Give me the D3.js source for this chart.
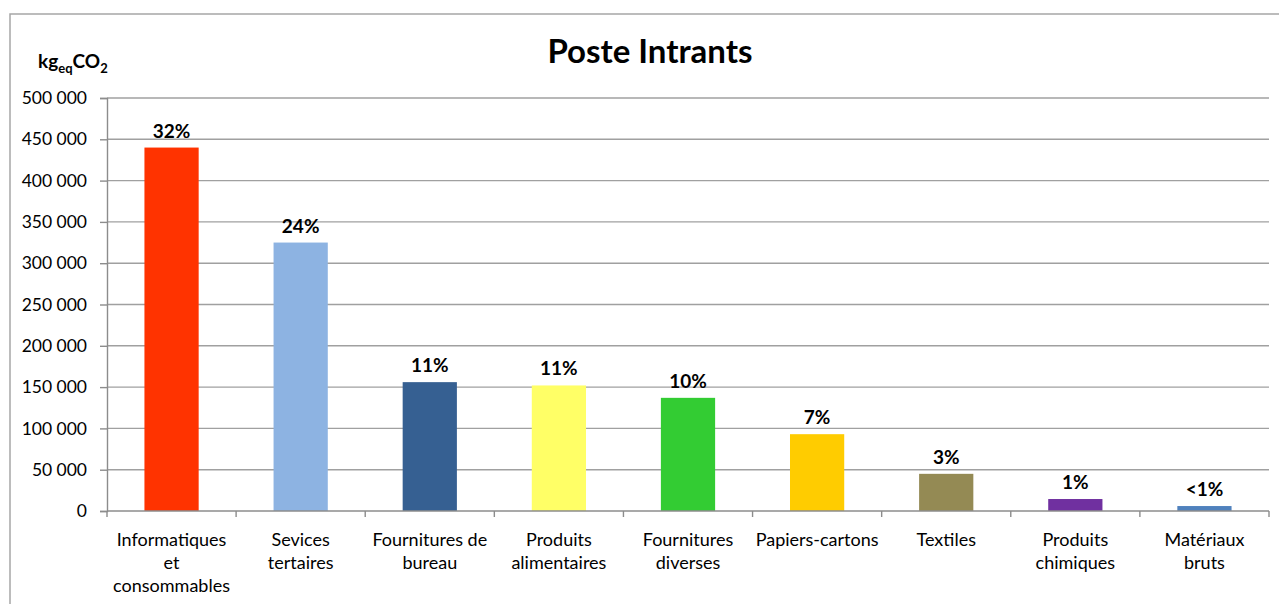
<!DOCTYPE html>
<html>
<head>
<meta charset="utf-8">
<script src="https://cdn.jsdelivr.net/npm/d3@7"></script>
<style>
  body { margin: 0; background: #fff; }
  svg { display: block; font-family: Lato, "Open Sans", sans-serif; }
</style>
</head>
<body>
<div id="chart"></div>
<script>
var categories = [
  ["Informatiques", "et", "consommables"],
  ["Sevices", "tertaires"],
  ["Fournitures de", "bureau"],
  ["Produits", "alimentaires"],
  ["Fournitures", "diverses"],
  ["Papiers-cartons"],
  ["Textiles"],
  ["Produits", "chimiques"],
  ["Matériaux", "bruts"]
]
var values = [440000, 325000, 156000, 152000, 137000, 93000, 45000, 14500, 6000]
var percents = ["32%", "24%", "11%", "11%", "10%", "7%", "3%", "1%", "<1%"]
var colors = ["#FF3300", "#8DB3E2", "#366092", "#FFFF66", "#33CC33", "#FFCC00", "#948A54", "#7030A0", "#4F81BD"]
var yTicks = [0, 50000, 100000, 150000, 200000, 250000, 300000, 350000, 400000, 450000, 500000]

var W = 1279, H = 604
var margin = {top: 98, right: 10, bottom: 93, left: 107}
var width = W - margin.left - margin.right,
    height = H - margin.top - margin.bottom

var svg = d3.select("#chart").append("svg")
    .attr("width", W)
    .attr("height", H)

// chart frame
svg.append("rect")
  .attr("x", 10).attr("y", 14)
  .attr("width", W).attr("height", H)
  .attr("fill", "none")
  .attr("stroke", "#A6A6A6")
  .attr("stroke-width", 1.5)

var chart = svg.append("g")
    .attr("transform", "translate(" + margin.left + "," + margin.top + ")")

var yScale = d3.scaleLinear().domain([0, 500000]).range([height, 0])
var xScale = d3.scaleBand()
    .domain(d3.range(categories.length))
    .range([0, width])
    .paddingInner(0.58)
    .paddingOuter(0.29)

var fmt = function(d) { return d3.format(",")(d).replace(/,/g, "\u202F") }

// grid lines
chart.selectAll(".grid")
  .data(yTicks.slice(1))
  .enter().append("line")
  .attr("x1", 0).attr("x2", width)
  .attr("y1", function(d){ return yScale(d) })
  .attr("y2", function(d){ return yScale(d) })
  .attr("stroke", "#A0A0A0")
  .attr("stroke-width", 1.4)

// y axis
var yAxis = chart.append("g")
  .call(d3.axisLeft(yScale).tickValues(yTicks).tickSize(7).tickPadding(13).tickFormat(fmt))
yAxis.select(".domain").attr("stroke", "#8C8C8C").attr("stroke-width", 1.4)
yAxis.selectAll(".tick line").attr("stroke", "#8C8C8C").attr("stroke-width", 1.4)
yAxis.selectAll("text").attr("font-size", 17.5).attr("fill", "#000")
  .attr("font-family", "Lato, sans-serif")

// bars
chart.selectAll(".bar")
  .data(values)
  .enter().append("rect")
  .attr("class", "bar")
  .attr("x", function(d, i){ return xScale(i) })
  .attr("y", function(d){ return yScale(d) })
  .attr("width", xScale.bandwidth())
  .attr("height", function(d){ return height - yScale(d) })
  .attr("fill", function(d, i){ return colors[i] })

// x axis
var step = xScale.step()
chart.append("line")
  .attr("x1", 0).attr("x2", width)
  .attr("y1", height).attr("y2", height)
  .attr("stroke", "#8C8C8C").attr("stroke-width", 1.4)
chart.selectAll(".xtick")
  .data(d3.range(categories.length + 1))
  .enter().append("line")
  .attr("x1", function(i){ return i * step }).attr("x2", function(i){ return i * step })
  .attr("y1", height).attr("y2", height + 6)
  .attr("stroke", "#8C8C8C").attr("stroke-width", 1.4)

// category labels
var catLabel = chart.selectAll(".cat")
  .data(categories)
  .enter().append("text")
  .attr("class", "cat")
  .attr("text-anchor", "middle")
  .attr("font-size", 18)
  .attr("fill", "#000")
  .attr("transform", function(d, i){ return "translate(" + (xScale(i) + xScale.bandwidth()/2) + "," + (height + 35) + ")" })
catLabel.selectAll("tspan")
  .data(function(d){ return d })
  .enter().append("tspan")
  .attr("x", 0)
  .attr("y", function(d, j){ return j * 23 })
  .text(function(d){ return d })

// percent labels
chart.selectAll(".pct")
  .data(values)
  .enter().append("text")
  .attr("class", "pct")
  .attr("text-anchor", "middle")
  .attr("font-size", 19)
  .attr("font-weight", "bold")
  .attr("x", function(d, i){ return xScale(i) + xScale.bandwidth()/2 })
  .attr("y", function(d){ return yScale(d) - 10 })
  .text(function(d, i){ return percents[i] })

// title
svg.append("text")
  .attr("x", 650).attr("y", 63)
  .attr("text-anchor", "middle")
  .attr("font-size", 33)
  .attr("font-weight", "bold")
  .text("Poste Intrants")

// unit label
var unit = svg.append("text")
  .attr("x", 38).attr("y", 68)
  .attr("font-size", 19)
  .attr("font-weight", "bold")
unit.append("tspan").text("kg")
unit.append("tspan").attr("font-size", 13).attr("dy", 5).text("eq")
unit.append("tspan").attr("dy", -5).text("CO")
unit.append("tspan").attr("font-size", 13).attr("dy", 5).text("2")
</script>
</body>
</html>
